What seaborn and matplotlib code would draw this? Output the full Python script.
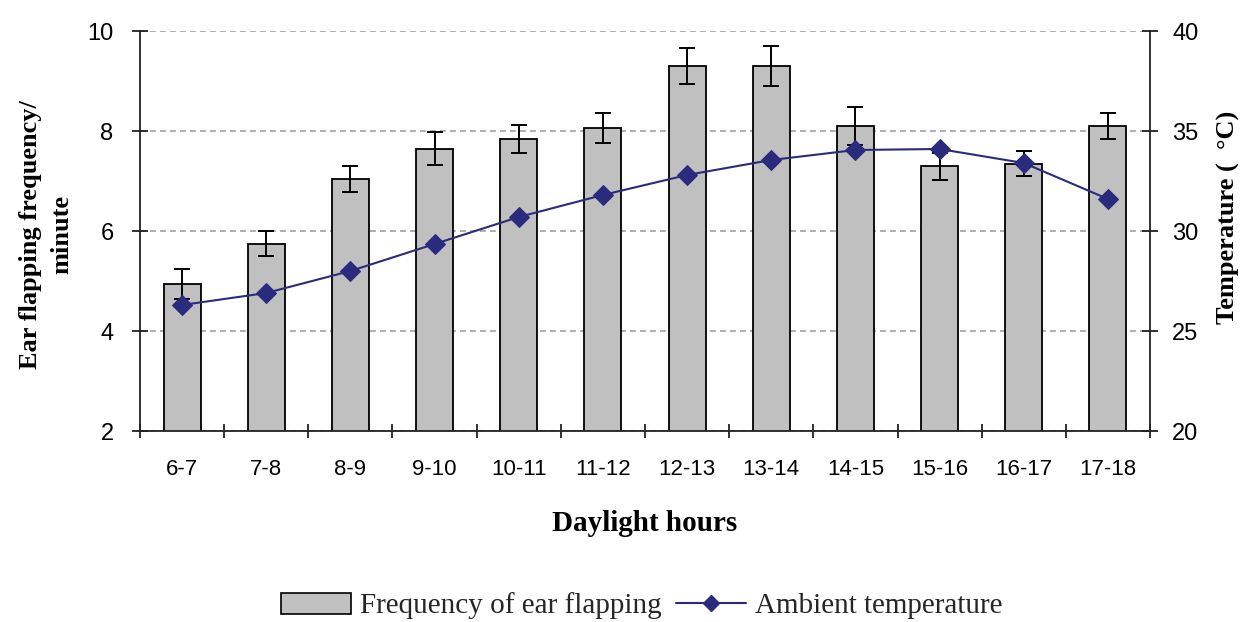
import numpy as np
import pandas as pd
import matplotlib
matplotlib.use("Agg")
import matplotlib.pyplot as plt
import seaborn as sns
from matplotlib.patches import Patch
from matplotlib.lines import Line2D
from matplotlib.ticker import FixedLocator

# ---- data ----
hours = ["6-7", "7-8", "8-9", "9-10", "10-11", "11-12",
         "12-13", "13-14", "14-15", "15-16", "16-17", "17-18"]
flap_freq = [4.95, 5.75, 7.05, 7.65, 7.85, 8.05, 9.3, 9.3, 8.1, 7.3, 7.35, 8.1]
flap_err = [0.30, 0.25, 0.26, 0.32, 0.28, 0.30, 0.36, 0.40, 0.38, 0.27, 0.25, 0.26]
temperature = [26.3, 26.9, 28.0, 29.35, 30.7, 31.8, 32.8, 33.55, 34.05, 34.1, 33.4, 31.6]

freq_ticks = [2, 4, 6, 8, 10]
temp_ticks = [20, 25, 30, 35, 40]

df = pd.DataFrame({"hours": hours, "freq": flap_freq, "err": flap_err, "temp": temperature})

sns.set_theme(style="white")
plt.rcParams["font.family"] = ["Liberation Sans", "DejaVu Sans"]

SERIF = "Liberation Serif"
BAR_C = "#C0C0C0"
LINE_C = "#2B2B7D"
AX_C = "#222222"

fig = plt.figure(figsize=(12.41, 6.22), dpi=100)
ax = fig.add_axes([140 / 1241, 1 - 431 / 622, 1010 / 1241, 400 / 622])

sns.barplot(data=df, x="hours", y="freq", color=BAR_C, saturation=1,
            edgecolor="black", linewidth=1.3, width=0.44, errorbar=None,
            ax=ax, zorder=2)
xpos = np.arange(len(df))
ax.errorbar(xpos, df["freq"], yerr=df["err"], fmt="none", ecolor="black",
            elinewidth=1.4, capsize=6, capthick=1.4, zorder=3)

ax.set_xlim(-0.5, len(df) - 0.5)
ax.set_ylim(freq_ticks[0], freq_ticks[-1])
ax.set_yticks(freq_ticks)
ax.yaxis.grid(True, linestyle=(0, (3.5, 2.5)), color="#a0a0a0", linewidth=1.2)
ax.xaxis.grid(False)
ax.set_axisbelow(True)

for s in ["top", "right"]:
    ax.spines[s].set_visible(False)
for s in ["left", "bottom"]:
    ax.spines[s].set_color(AX_C)
    ax.spines[s].set_linewidth(1.3)

ax.xaxis.set_minor_locator(FixedLocator(np.arange(-0.5, len(df), 1.0)))
ax.tick_params(axis="x", which="major", length=0, pad=20, labelsize=16, colors="black")
ax.tick_params(axis="x", which="minor", length=10, width=1.3, direction="inout",
               color=AX_C, bottom=True)
ax.tick_params(axis="y", which="major", length=12, width=1.3, direction="inout",
               color=AX_C, pad=13, labelsize=17, left=True, labelcolor="black")

ax.set_xlabel("Daylight hours", fontfamily=SERIF, fontweight="bold", fontsize=21,
              labelpad=22, color="black")
ax.set_ylabel("Ear flapping frequency/\nminute", fontfamily=SERIF, fontweight="bold",
              fontsize=19, color="black", linespacing=1.45)
ax.yaxis.set_label_coords(-0.066, 0.49)

ax2 = ax.twinx()
sns.lineplot(data=df, x="hours", y="temp", ax=ax2, color=LINE_C, marker="D",
             markersize=10, markeredgecolor=LINE_C, linewidth=1.5, sort=False)
ax2.set_ylim(temp_ticks[0], temp_ticks[-1])
ax2.set_yticks(temp_ticks)
ax2.grid(False)
for s in ["top", "left", "bottom"]:
    ax2.spines[s].set_visible(False)
ax2.spines["right"].set_color(AX_C)
ax2.spines["right"].set_linewidth(1.3)
ax2.tick_params(axis="y", which="major", length=12, width=1.3, direction="inout",
                color=AX_C, pad=10, labelsize=17, right=True, labelcolor="black")
ax2.set_ylabel("Temperature (  °C)", fontfamily=SERIF, fontweight="bold",
               fontsize=19, color="black")
ax2.yaxis.set_label_coords(1.066, 0.535)
ax2.set_xlim(-0.5, len(df) - 0.5)

handles = [Patch(facecolor=BAR_C, edgecolor="black", linewidth=1.2),
           Line2D([], [], color=LINE_C, marker="D", markersize=8, linewidth=1.5)]
fig.legend(handles, ["Frequency of ear flapping", "Ambient temperature"],
           loc="center", bbox_to_anchor=(642 / 1241, 1 - 606 / 622), ncol=2,
           frameon=False, prop={"family": SERIF, "size": 21},
           handlelength=2.4, handleheight=0.75, handletextpad=0.3,
           columnspacing=0.5)

fig.savefig("out.png", dpi=100)
